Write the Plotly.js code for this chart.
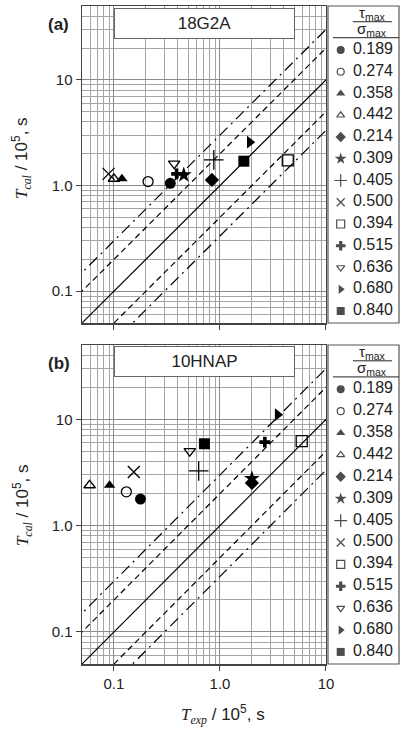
<!DOCTYPE html>
<html><head><meta charset="utf-8">
<script src="https://cdn.plot.ly/plotly-3.0.1.min.js"></script>
<style>html,body{margin:0;padding:0;background:#fff}</style>
</head><body><div id="chart" style="width:401px;height:729px"></div>
<script>
// ---- data ----
const ratios = ['0.189','0.274','0.358','0.442','0.214','0.309','0.405','0.500','0.394','0.515','0.636','0.680','0.840'];
const a_Texp = [0.34, 0.21, 0.119, 0.10, 0.84, 0.456, 0.875, 0.089, 4.36, 0.39, 0.37, 1.91, 1.68];
const a_Tcal = [1.05, 1.09, 1.16, 1.16, 1.13, 1.26, 1.75, 1.29, 1.73, 1.29, 1.61, 2.57, 1.70];
const b_Texp = [0.178, 0.131, 0.091, 0.059, 2.0, 2.0, 0.63, 0.154, 5.9, 2.65, 0.519, 3.5, 0.714];
const b_Tcal = [1.78, 2.08, 2.40, 2.40, 2.52, 2.77, 3.27, 3.2, 6.25, 6.1, 5.02, 11.07, 5.89];
const tickVals = [0.1, 1, 10];
const tickText = ['0.1', '1.0', '10'];
const bandRatios = [1, 2, 0.5, 3, 1/3];
const panelNames = ['18G2A', '10HNAP'];
const panelLabels = ['(a)', '(b)'];

// ---- styles ----
const symbols = ['circle','circle-open','triangle-up','triangle-up-open','diamond','star','cross-thin-open','x-thin-open','square-open','cross','triangle-down-open','triangle-right','square'];
const msize = [11,10,10,10,11,12,14,12,11,9,10,11,11];
const lsize = [8,7,8,7,8,9,9,8,8,8,7,8,8];
const bandDash = ['solid','6px,4px','6px,4px','11px,5px,2px,5px','11px,5px,2px,5px'];
const FONT = 'Liberation Sans, Arial, sans-serif';

const traces = [];
const panels = [[a_Texp, a_Tcal, 'x', 'y'], [b_Texp, b_Tcal, 'x2', 'y2']];
panels.forEach(([xs, ys, xa, ya]) => {
  bandRatios.forEach((k, j) => {
    traces.push({x: [0.01, 100], y: [0.01 * k, 100 * k], xaxis: xa, yaxis: ya, mode: 'lines',
      line: {color: '#000', width: 1.2, dash: bandDash[j]}, showlegend: false, hoverinfo: 'skip'});
  });
  ratios.forEach((r, i) => {
    const open = symbols[i].endsWith('open');
    traces.push({x: [xs[i]], y: [ys[i]], xaxis: xa, yaxis: ya, mode: 'markers', name: r, showlegend: false,
      marker: {symbol: symbols[i], size: msize[i], color: '#000', line: {color: '#000', width: open ? 1.3 : 0}}});
  });
});
// legend keys (one per panel)
[['x3','y3'],['x4','y4']].forEach(([xa, ya]) => {
  const idx = ratios.map((r, i) => i);
  traces.push({x: idx.map(() => 0.179), y: idx, xaxis: xa, yaxis: ya, mode: 'markers', showlegend: false, hoverinfo: 'skip',
    marker: {symbol: symbols, size: lsize, color: '#000', line: {color: '#000', width: symbols.map(s => s.endsWith('open') ? 1.2 : 0)}}});
  traces.push({x: idx.map(() => 0.352), y: idx, xaxis: xa, yaxis: ya, mode: 'text', text: ratios, textposition: 'middle right',
    textfont: {family: FONT, size: 16, color: '#222'}, showlegend: false, hoverinfo: 'skip'});
});

const minorVals = [];
for (let d = -2; d <= 1; d++) for (let m = 2; m <= 9; m++) minorVals.push(m * Math.pow(10, d));

function logAxis(range, domain, anchor, showLabels) {
  return {type: 'log', range: range, domain: domain, anchor: anchor,
    tickmode: 'array', tickvals: tickVals, ticktext: tickText, showticklabels: showLabels,
    ticks: 'outside', ticklen: 5, tickcolor: '#444', tickwidth: 1,
    tickfont: {family: FONT, size: 15, color: '#222'},
    showgrid: true, gridcolor: '#8a8a8a', gridwidth: 1,
    minor: {tickmode: 'array', tickvals: minorVals, showgrid: true, gridcolor: '#a5a5a5', gridwidth: 1, ticks: ''},
    showline: true, mirror: true, linecolor: '#444', linewidth: 1.5, zeroline: false, fixedrange: true};
}
const XR = [Math.log10(0.05), 1];
const YR = [Math.log10(0.05), Math.log10(50)];
const xDom = [0, 0.7697];
const legDom = [0.776, 1];
const aDom = [0.5182, 1];
const bDom = [0, 0.4848];
const legAxisX = {domain: legDom, range: [0, 1], visible: false, fixedrange: true};
const legRange = [12.552, -2.023];

const layout = {
  width: 401, height: 729, margin: {l: 82, r: 2, t: 6, b: 65},
  paper_bgcolor: '#fff', plot_bgcolor: '#fff', showlegend: false,
  font: {family: FONT, color: '#222'},
  xaxis: logAxis(XR, xDom, 'y', false),
  yaxis: logAxis(YR, aDom, 'x', true),
  xaxis2: logAxis(XR, xDom, 'y2', true),
  yaxis2: logAxis(YR, bDom, 'x2', true),
  xaxis3: Object.assign({anchor: 'y3'}, legAxisX),
  yaxis3: {domain: aDom, range: legRange, visible: false, anchor: 'x3', fixedrange: true},
  xaxis4: Object.assign({anchor: 'y4'}, legAxisX),
  yaxis4: {domain: bDom, range: legRange, visible: false, anchor: 'x4', fixedrange: true},
  shapes: [], annotations: []
};

const yTitle = '<span style="font-family:\'Liberation Serif\',serif"><i>T<sub>cal</sub></i></span> / 10<sup>5</sup>, s';
const xTitle = '<span style="font-family:\'Liberation Serif\',serif"><i>T<sub>exp</sub></i></span> / 10<sup>5</sup>, s';
const C = {xanchor: 'center', yanchor: 'middle', showarrow: false};

[[aDom, 'x3', 'y3', 0.9734, 0.9726, 0.769], [bDom, 'x4', 'y4', 0.459, 0.4574, 0.2416]].forEach(([dom, lx, ly, boxY, labY, titY], p) => {
  // legend frame
  layout.shapes.push({type: 'rect', xref: 'paper', yref: 'paper', x0: 0.776, x1: 1, y0: dom[0], y1: dom[1],
    line: {color: '#555', width: 1.2}, fillcolor: 'rgba(0,0,0,0)'});
  layout.shapes.push({type: 'line', xref: lx, yref: ly, x0: 0.35, x1: 0.90, y0: -1.30, y1: -1.30, line: {color: '#222', width: 1}});
  layout.shapes.push({type: 'line', xref: lx, yref: ly, x0: 0.07, x1: 1, y0: -0.565, y1: -0.565, line: {color: '#222', width: 1}});
  layout.annotations.push(Object.assign({xref: lx, yref: ly, x: 0.62, y: -1.68, text: 'τ<sub>max</sub>',
    font: {family: FONT, size: 15, color: '#222'}}, C));
  layout.annotations.push(Object.assign({xref: lx, yref: ly, x: 0.62, y: -0.95, text: 'σ<sub>max</sub>',
    font: {family: FONT, size: 15, color: '#222'}}, C));
  // panel name box
  layout.annotations.push(Object.assign({xref: 'paper', yref: 'paper', x: 0.3864, y: boxY, text: panelNames[p],
    width: 179, height: 29, borderpad: 0, borderwidth: 1, bordercolor: '#666', bgcolor: '#fff',
    font: {family: FONT, size: 17, color: '#222'}}, C));
  layout.annotations.push(Object.assign({xref: 'paper', yref: 'paper', x: -0.0726, y: labY, text: '<b>' + panelLabels[p] + '</b>',
    font: {family: FONT, size: 17, color: '#222'}}, C));
  layout.annotations.push(Object.assign({xref: 'paper', yref: 'paper', x: -0.189, y: titY, text: yTitle, textangle: -90,
    font: {family: FONT, size: 17, color: '#222'}}, C));
});
layout.annotations.push(Object.assign({xref: 'paper', yref: 'paper', x: 0.445, y: -0.0775, text: xTitle,
  font: {family: FONT, size: 17, color: '#222'}}, C));

Plotly.newPlot('chart', traces, layout, {staticPlot: true, displayModeBar: false});
</script></body></html>
